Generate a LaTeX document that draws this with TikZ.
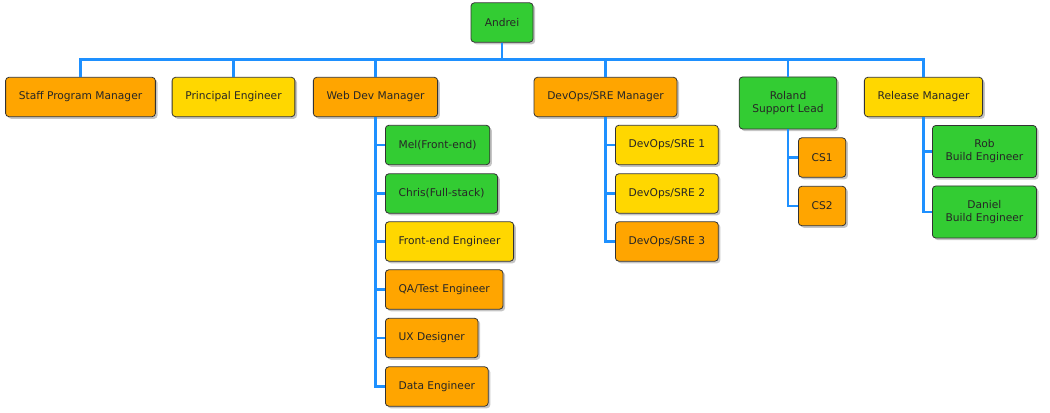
\documentclass[tikz,border=0pt]{standalone}
\usepackage{fontspec}
\setmainfont{DejaVu Sans}
\usepackage{tikz}
\usetikzlibrary{shadows,positioning,calc}
\definecolor{orgorange}{HTML}{FFA500}
\definecolor{orgyellow}{HTML}{FFD700}
\definecolor{orggreen}{HTML}{33CC33}
\definecolor{orgline}{HTML}{1E90FF}
\definecolor{orgborder}{HTML}{333333}

\begin{document}
\begin{tikzpicture}[
    x=0.75pt, y=-0.75pt,
    every node/.style={align=center, font=\fontsize{8pt}{9.8pt}\selectfont, text=black!85},
    box/.style={draw=orgborder, line width=0.6pt, rounded corners=2.5pt, inner xsep=9.9pt,
        minimum height=29.5pt, drop shadow={shadow xshift=1.6pt, shadow yshift=-1.6pt, fill=black!45}},
    orangebox/.style={box, fill=orgorange},
    yellowbox/.style={box, fill=orgyellow},
    greenbox/.style={box, fill=orggreen},
    tallbox/.style={minimum height=39pt},
    link/.style={draw=orgline, line width=2pt}
]
    \useasboundingbox (0,0) rectangle (1050,413);

    % top
    \node[greenbox, minimum width=46.5pt] (andrei) at (502,22.5) {Andrei};

    % managers
    \node[orangebox] (staff) at (80.5,97) {Staff Program Manager};
    \node[yellowbox] (principal) at (233.5,97) {Principal Engineer};
    \node[orangebox] (webdev) at (375.5,97) {Web Dev Manager};
    \node[orangebox] (devops) at (605.5,97) {DevOps/SRE Manager};
    \node[greenbox, tallbox] (roland) at (788,103) {Roland\\Support Lead};
    \node[yellowbox] (release) at (923.5,97) {Release Manager};

    % web dev team
    \node[greenbox, anchor=west] (mel) at (385,145) {Mel(Front-end)};
    \node[greenbox, anchor=west] (chris) at (385,193.5) {Chris(Full-stack)};
    \node[yellowbox, anchor=west] (frontend) at (385,241.5) {Front-end Engineer};
    \node[orangebox, anchor=west] (qa) at (385,289.5) {QA/Test Engineer};
    \node[orangebox, anchor=west] (ux) at (385,338) {UX Designer};
    \node[orangebox, anchor=west] (data) at (385,386.5) {Data Engineer};

    % devops team
    \node[yellowbox, anchor=west] (sre1) at (615,145) {DevOps/SRE 1};
    \node[yellowbox, anchor=west] (sre2) at (615,193.5) {DevOps/SRE 2};
    \node[orangebox, anchor=west] (sre3) at (615,241.5) {DevOps/SRE 3};

    % support team
    \node[orangebox, anchor=west] (cs1) at (798,157.5) {CS1};
    \node[orangebox, anchor=west] (cs2) at (798,206) {CS2};

    % release team
    \node[greenbox, tallbox, anchor=west] (rob) at (932,151.5) {Rob\\Build Engineer};
    \node[greenbox, tallbox, anchor=west] (daniel) at (932,212) {Daniel\\Build Engineer};

    % connectors
    \foreach \m in {staff,principal,webdev,devops,roland,release}
        \draw[link] (andrei.south) -- ++(0,17) -| (\m.north);
    \foreach \c in {mel,chris,frontend,qa,ux,data}
        \draw[link] (webdev.south) |- (\c.west);
    \foreach \c in {sre1,sre2,sre3}
        \draw[link] (devops.south) |- (\c.west);
    \foreach \c in {cs1,cs2}
        \draw[link] (roland.south) |- (\c.west);
    \foreach \c in {rob,daniel}
        \draw[link] (release.south) |- (\c.west);
\end{tikzpicture}
\end{document}
